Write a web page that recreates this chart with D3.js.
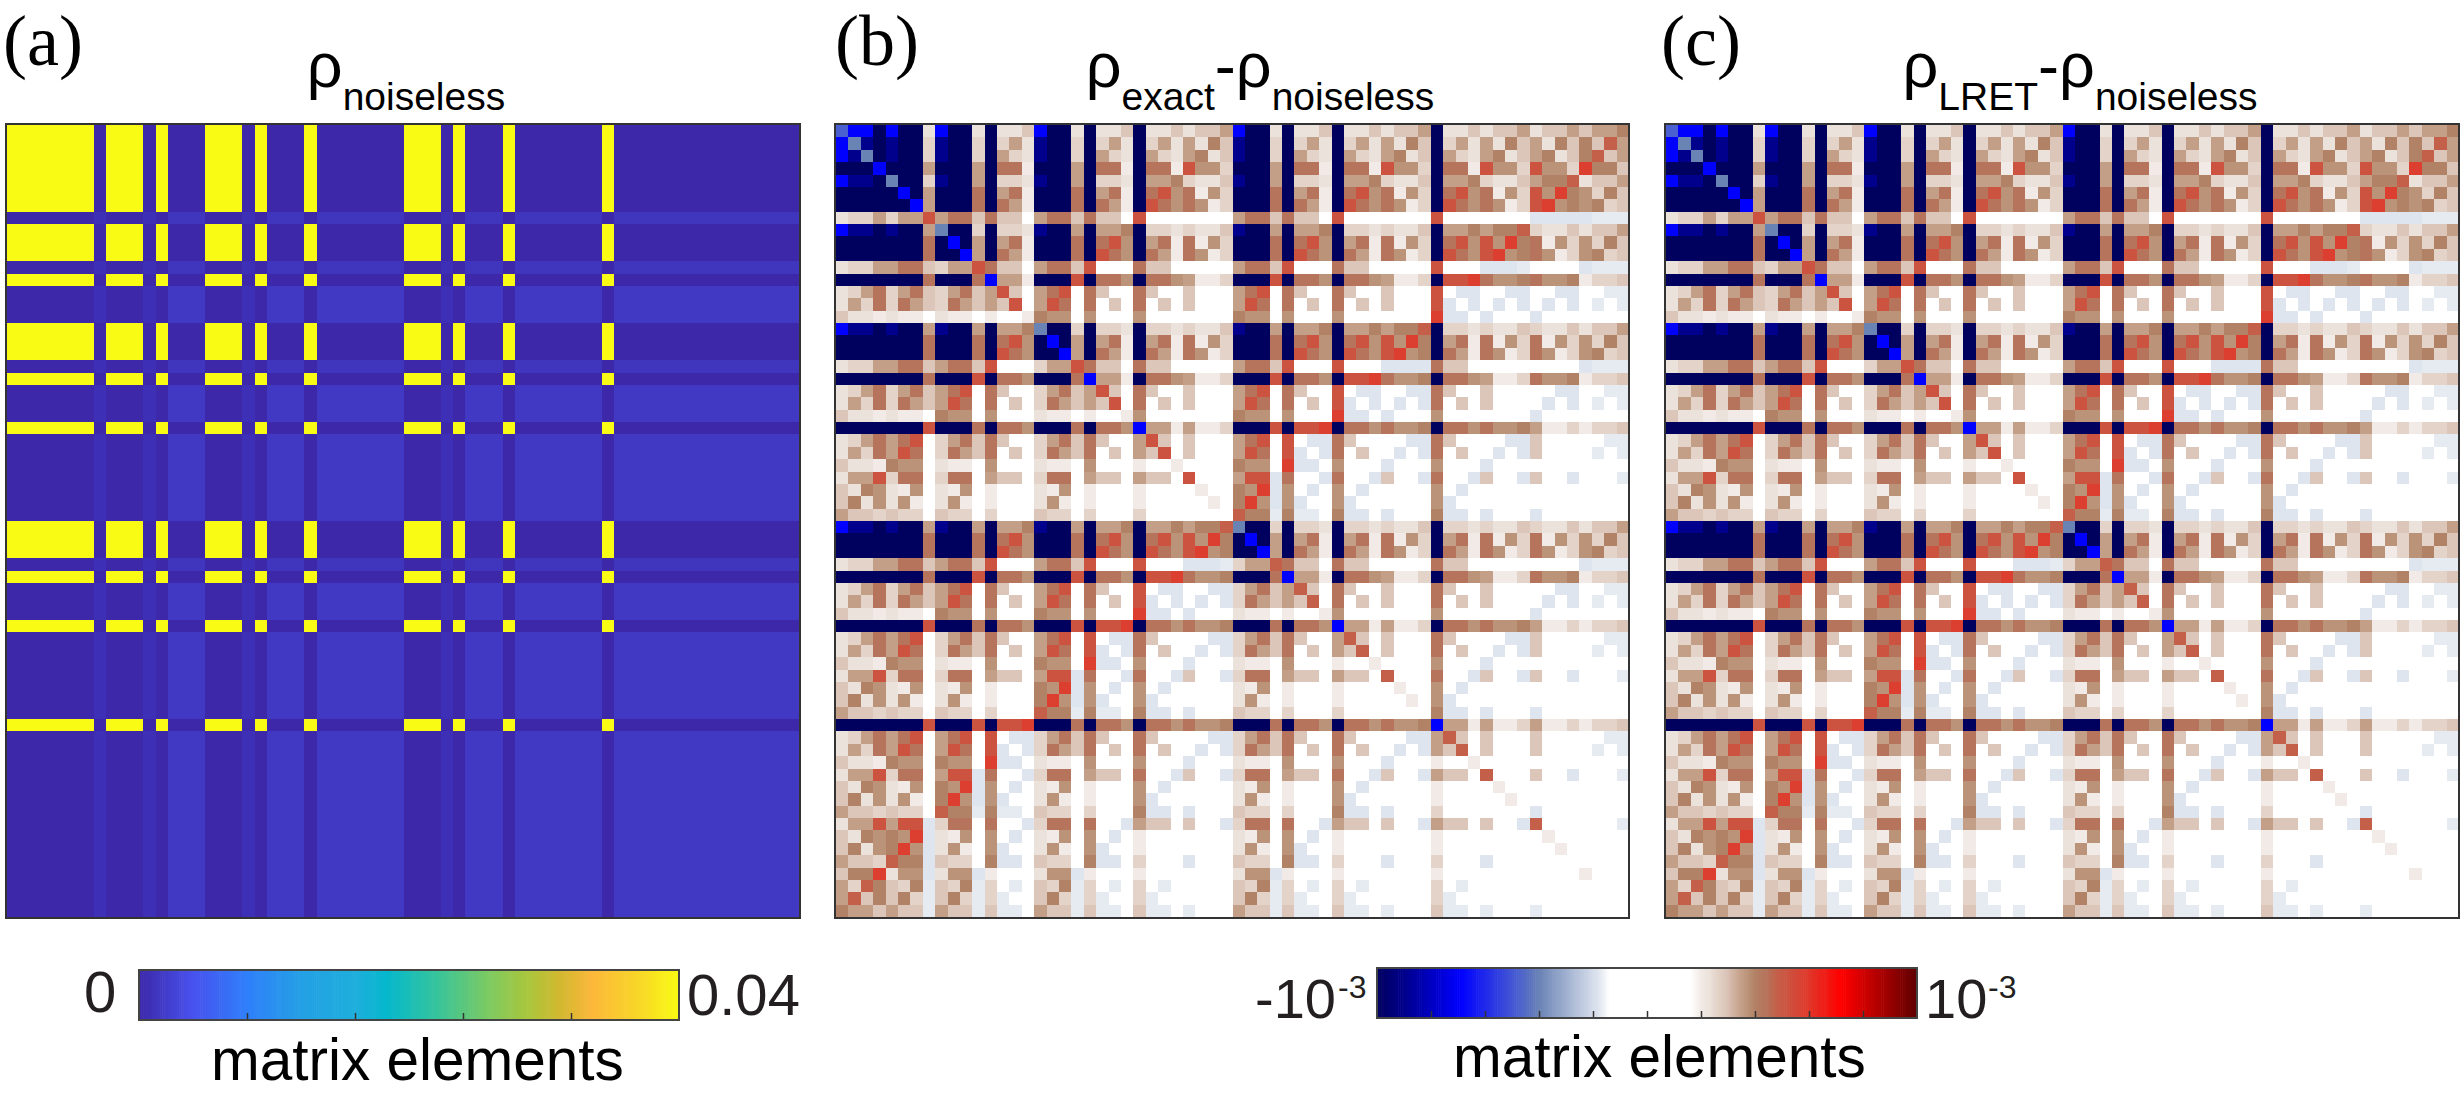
<!DOCTYPE html>
<html>
<head>
<meta charset="utf-8">
<script src="https://d3js.org/d3.v7.min.js"></script>
<style>
html, body { margin: 0; padding: 0; background: #fff; overflow: hidden; }
text { font-family: "Liberation Sans", sans-serif; fill: #000; }
.panel-label { font-family: "Liberation Serif", serif; font-size: 72px; }
.cbar-label { fill: #231f20; }
</style>
</head>
<body>
<script>
// colormap for panel (a), fraction of the colorbar -> colour
var parulaStops = [0, 0.1, 0.2, 0.3, 0.4, 0.46, 0.55, 0.65, 0.72, 0.78, 0.84, 0.92, 1];
var parulaColors = ["#3c28a8", "#4852ee", "#2f7ffa", "#24a0e4", "#1eaedc", "#05b8cc", "#35c49c", "#7fca60", "#a9c63c", "#d2b830", "#fcb83a", "#f8d428", "#f9fb14"];

// colormap for panels (b) and (c), -1 .. 1 (axis runs -10^-3 .. 10^-3)
var divStops = [-1, -0.9, -0.69, -0.48, -0.4, -0.18, -0.17, -0.14, 0.16, 0.2, 0.23, 0.26, 0.29, 0.35, 0.37, 0.4, 0.44, 0.48, 0.52, 0.58, 0.72, 1];
var divColors = ["#00005f", "#00008c", "#0000ff", "#4a5fd0", "#6a83b5", "#dfe5ef", "#e6ebf2", "#ffffff", "#ffffff", "#f2eae6", "#ece2dc", "#e3d3c9", "#dcc6ba", "#c49f88", "#bb9379", "#b28266", "#b5745b", "#c4604a", "#cc5340", "#dc3f30", "#ff0000", "#5f0000"];

// value of each letter used in the matrices below
var noiselessCodes = { y: 0.04, s: 0, m: 0.0008, l: 0.0012, L: 0.0016 };
var diffCodes = { N: -1, D: -0.9, B: -0.69, a: -0.48, g: -0.4, p: -0.18, q: -0.17, ".": 0,
  1: 0.2, 2: 0.23, 3: 0.26, 4: 0.29, 5: 0.35, 6: 0.37, 7: 0.4, 8: 0.44, r: 0.48, 9: 0.52, S: 0.58 };

var rowY = "yyyyyyys yyysysss yyysysss ysssssss yyysysss ysssssss ysssssss ssssssss";
var rowM = "sssssssm sssmslll sssmslll slllllll sssmslll slllllll slllllll llllllll";
var rowL = "sssssssm sssmsLLL sssmsLLL sLLLLLLL sssmsLLL sLLLLLLL sLLLLLLL LLLLLLLL";

var rhoNoiseless = [
  rowY, rowY, rowY, rowY, rowY, rowY, rowY, rowM,
  rowY, rowY, rowY, rowM, rowY, rowL, rowL, rowL,
  rowY, rowY, rowY, rowM, rowY, rowL, rowL, rowL,
  rowY, rowL, rowL, rowL, rowL, rowL, rowL, rowL,
  rowY, rowY, rowY, rowM, rowY, rowL, rowL, rowL,
  rowY, rowL, rowL, rowL, rowL, rowL, rowL, rowL,
  rowY, rowL, rowL, rowL, rowL, rowL, rowL, rowL,
  rowL, rowL, rowL, rowL, rowL, rowL, rowL, rowL
];

var rhoExactDiff = [
  "aBBNBNN2 BNN2N224 BNN2N224 N2242445 BNN2N224 N2242445 N2242445 24454557",
  "BgDNDNN3 DNN3N352 DNN3N352 N3525274 DNN3N352 N3525274 N3525274 527474r5",
  "BDgNDNN3 DNN3N532 DNN3N532 N5325724 DNN3N532 N5325724 N5325724 57247r45",
  "NNNBNNN5 NNN5N881 NNN5N881 N8819663 NNN5N881 N8819663 N8819663 9663S774",
  "BDDNgNN3 DNN5N332 DNN5N332 N5573224 DNN5N332 N5573224 N5573224 577r2445",
  "NNNNNBN5 NNN8N581 NNN8N581 N8968163 NNN8N581 N8968163 N8968163 96S76374",
  "NNNNNNB5 NNN8N851 NNN8N851 N9868613 NNN8N851 N9868613 N9868613 9S676734",
  "23353559 5884844. 5884844. 9....... 5884844. 9....... 9....... pppppqqq",
  "BDDNDNN5 gNN3N332 DNN5N557 N3323224 DNN5N557 N3323224 N557577r 32242445",
  "NNNNNNN8 NBN5N581 NNN8N896 N5818163 NNN8N896 N5818163 N89696S7 81636374",
  "NNNNNNN8 NNB5N851 NNN8N986 N8518613 NNN8N986 N8518613 N9869S67 86136734",
  "23355884 3559844. 58849... 844..... 58849... 844..... 9...pppq ....pqqq",
  "NNNNNNN8 NNN8B551 NNN9N886 N8865113 NNN9N886 N8865113 N99S8667 86671334",
  "23583584 3584594. 589.84.. 84..4... 589.84.. 84..4... 9.pp..pp ..pp..qq",
  "25383854 3854549. 598.8.4. 8.4.4... 598.8.4. 8.4.4... 9p.p.p.p .p.p.q.q",
  "4221211. 211.1..1 766.6... 6....... 766.6... 6....... Spp.p... p.......",
  "BDDNDNN5 DNN5N557 gNN3N332 N3323224 DNN5N557 N557577r N3323224 32242445",
  "NNNNNNN8 NNN8N896 NBN5N581 N5818163 NNN8N896 N89696S7 N5818163 81636374",
  "NNNNNNN8 NNN8N986 NNB5N851 N8518613 NNN8N986 N9869S67 N8518613 86136734",
  "23355884 58849... 3559844. 844..... 58849... 9...pppp 844..... ....pqqq",
  "NNNNNNN8 NNN9N886 NNN8B551 N8865113 NNN9N886 N99S8667 N8865113 86671334",
  "23583584 589.84.. 3584594. 84..4... 589.84.. 9.pp..pp 84..4... ..pp..qq",
  "25383854 598.8.4. 3854549. 8.4.4... 598.8.4. 9p.p.p.p 8.4.4... .p.p.q.q",
  "4221211. 766.6... 211.1..1 6....... 766.6... Spp.p... 6....... p.......",
  "NNNNNNN9 NNN8N886 NNN8N886 B5515113 NNN9N99S N8868667 N8868667 51131334",
  "2358589. 358484.. 358484.. 594.4... 589.9.pp 84....pp 84....pp 4.....qq",
  "2538598. 38548.4. 38548.4. 549.4... 598.9p.p 8.4..p.p 8.4..p.p 4....q.q",
  "4221766. 211.6... 211.6... 1..1.... 766.Spp. 6...p... 6...p... ........",
  "2559388. 388.544. 388.544. 544.9... 599p8..p 8..p4..p 8..p4..p 4..p...q",
  "4276216. 216.1... 216.1... 1....1.. 76Sp6.p. 6.p..... 6.p..... ........",
  "4726261. 261.1... 261.1... 1.....1. 7S6p6p.. 6p...... 6p...... ........",
  "5443433. 433.3... 433.3... 3....... r77q7qq. 7pp.p... 7pp.p... p.......",
  "BDDNDNN5 DNN5N557 DNN5N557 N557577r gNN3N332 N3323224 N3323224 32242445",
  "NNNNNNN8 NNN8N896 NNN8N896 N89696S7 NBN5N581 N5818163 N5818163 81636374",
  "NNNNNNN8 NNN8N986 NNN8N986 N9869S67 NNB5N851 N8518613 N8518613 86136734",
  "23355884 58849... 58849... 9...pppq 355r844. 844..... 844..... ....pqqq",
  "NNNNNNN8 NNN9N886 NNN9N886 N99S8667 NNN8B551 N8865113 N8865113 86671334",
  "23583584 589.84.. 589.84.. 9.pp..pp 35845r4. 84..4... 84..4... ..pp..qq",
  "25383854 598.8.4. 598.8.4. 9p.p.p.p 385454r. 8.4.4... 8.4.4... .p.p.q.q",
  "4221211. 766.6... 766.6... Spp.p... 211.1..1 6....... 6....... p.......",
  "NNNNNNN9 NNN8N886 NNN9N99S N8868667 NNN8N886 B5515113 N8868667 51131334",
  "2358589. 358484.. 589.9.pp 84....pp 358484.. 5r4.4... 84....pp 4.....qq",
  "2538598. 38548.4. 598.9p.p 8.4..p.p 38548.4. 54r.4... 8.4..p.p 4....q.q",
  "4221766. 211.6... 766.Spp. 6...p... 211.6... 1..1.... 6...p... ........",
  "2559388. 388.544. 599p8..p 8..p4..p 388.544. 544.r... 8..p4..p 4..p...q",
  "4276216. 216.1... 76Sp6.p. 6.p..... 216.1... 1....1.. 6.p..... ........",
  "4726261. 261.1... 7S6p6p.. 6p...... 261.1... 1.....1. 6p...... ........",
  "5443433. 433.3... r77q7qq. 7pp.p... 433.3... 3....... 7pp.p... p.......",
  "NNNNNNN9 NNN9N99S NNN8N886 N8868667 NNN8N886 N8868667 B5515113 51131334",
  "2358589. 589.9.pp 358484.. 84....pp 358484.. 84....pp 5r4.4... 4.....qq",
  "2538598. 598.9p.p 38548.4. 8.4..p.p 38548.4. 8.4..p.p 54r.4... 4....q.q",
  "4221766. 766.Spp. 211.6... 6...p... 211.6... 6...p... 1..1.... ........",
  "2559388. 599p8..p 388.544. 8..p4..p 388.544. 8..p4..p 544.r... 4..p...q",
  "4276216. 76Sp6.p. 216.1... 6.p..... 216.1... 6.p..... 1....1.. ........",
  "4726261. 7S6p6p.. 261.1... 6p...... 261.1... 6p...... 1.....1. ........",
  "5443433. r77q7qq. 433.3... 7pp.p... 433.3... 7pp.p... 3....... p.......",
  "2559599p 388.8..p 388.8..p 544.4..p 388.8..p 544.4..p 544.4..p r......q",
  "427676Sp 216.6.p. 216.6.p. 1....... 216.6.p. 1....... 1....... .1......",
  "47267S6p 261.6p.. 261.6p.. 1....... 261.6p.. 1....... 1....... ..1.....",
  "5443r77p 433.7pp. 433.7pp. 3...p... 433.7pp. 3...p... 3...p... ........",
  "477S266p 266p1... 266p1... 1....... 266p1... 1....... 1....... ....1...",
  "53r7437q 437q3.q. 437q3.q. 3.q..... 437q3.q. 3.q..... 3.q..... ........",
  "5r47473q 473q3q.. 473q3q.. 3q...... 473q3q.. 3q...... 3q...... ........",
  "7554544q 544q4qq. 544q4qq. 4qq.q... 544q4qq. 4qq.q... 4qq.q... q......."
];

// (c) cannot be told from (b) at this resolution
var rhoLretDiff = rhoExactDiff;

var panelLabels = ["(a)", "(b)", "(c)"];
var cbarTicksA = [0.008, 0.016, 0.024, 0.032];
var cbarTicksB = [-0.8, -0.6, -0.4, -0.2, 0, 0.2, 0.4, 0.6, 0.8];

var width = 2461, height = 1093, nCells = 64;
var panelSize = 793;

var svg = d3.select("body").append("svg")
    .attr("width", width)
    .attr("height", height);

var parula = d3.scaleLinear()
    .domain(parulaStops.map(function(d) { return d * 0.04; }))
    .range(parulaColors);

var diverging = d3.scaleLinear()
    .domain(divStops)
    .range(divColors)
    .clamp(true);

var xScale = d3.scaleBand().domain(d3.range(nCells)).range([0, panelSize]);
var yScale = d3.scaleBand().domain(d3.range(nCells)).range([0, panelSize - 1]);

function parseRows(rows, codes) {
  var cells = [];
  rows.forEach(function(row, i) {
    row.replace(/ /g, "").split("").forEach(function(c, j) {
      cells.push({ row: i, col: j, value: codes[c] });
    });
  });
  return cells;
}

function drawMatrix(left, rows, codes, color) {
  var g = svg.append("g")
      .attr("transform", "translate(" + left + ",125)");

  g.selectAll("rect.cell")
      .data(parseRows(rows, codes))
      .enter().append("rect")
      .attr("class", "cell")
      .attr("x", function(d) { return xScale(d.col); })
      .attr("y", function(d) { return yScale(d.row); })
      .attr("width", xScale.bandwidth())
      .attr("height", yScale.bandwidth())
      .attr("fill", function(d) { return color(d.value); })
      .attr("shape-rendering", "crispEdges");

  g.append("rect")
      .attr("x", -1)
      .attr("y", -1)
      .attr("width", panelSize + 1)
      .attr("height", panelSize + 1)
      .attr("fill", "none")
      .attr("stroke", "#333")
      .attr("stroke-width", 2);
}

drawMatrix(7, rhoNoiseless, noiselessCodes, parula);
drawMatrix(836, rhoExactDiff, diffCodes, diverging);
drawMatrix(1666, rhoLretDiff, diffCodes, diverging);

function drawColorbar(left, top, barHeight, domain, color, ticks) {
  var barScale = d3.scaleLinear().domain(domain).range([0, 540]);
  var g = svg.append("g")
      .attr("transform", "translate(" + left + "," + top + ")");

  g.selectAll("rect.step")
      .data(d3.range(0, 256))
      .enter().append("rect")
      .attr("class", "step")
      .attr("x", function(d) { return 540 * d / 256; })
      .attr("width", 540 / 256 + 0.6)
      .attr("height", barHeight)
      .attr("fill", function(d) { return color(barScale.invert(540 * (d + 0.5) / 256)); });

  var axis = d3.axisTop(barScale)
      .tickValues(ticks)
      .tickSize(7)
      .tickFormat("");

  g.append("g")
      .attr("transform", "translate(0," + barHeight + ")")
      .call(axis)
      .call(function(a) { a.select(".domain").remove(); })
      .selectAll("line")
      .attr("stroke", "#333")
      .attr("stroke-width", 1.5);

  g.append("rect")
      .attr("width", 540)
      .attr("height", barHeight)
      .attr("fill", "none")
      .attr("stroke", "#444")
      .attr("stroke-width", 2);
}

drawColorbar(139, 970, 50, [0, 0.04], parula, cbarTicksA);
drawColorbar(1377, 968, 50, [-1, 1], diverging, cbarTicksB);

// panel letters
svg.selectAll("text.panel-label")
    .data(panelLabels)
    .enter().append("text")
    .attr("class", "panel-label")
    .attr("x", function(d, i) { return [3, 835, 1661][i]; })
    .attr("y", 65)
    .text(function(d) { return d; });

// titles: [text, subscript?] runs
function title(x, runs) {
  var t = svg.append("text")
      .attr("x", x)
      .attr("y", 87)
      .attr("text-anchor", "middle");
  var sub = false;
  runs.forEach(function(r) {
    var isSub = r[1];
    t.append("tspan")
        .attr("dy", isSub === sub ? 0 : (isSub ? 23 : -23))
        .style("font-size", isSub ? "39px" : "63px")
        .text(r[0]);
    sub = isSub;
  });
}

title(406, [["ρ", false], ["noiseless", true]]);
title(1260, [["ρ", false], ["exact", true], ["-ρ", false], ["noiseless", true]]);
title(2080, [["ρ", false], ["LRET", true], ["-ρ", false], ["noiseless", true]]);

// colorbar labels
function barText(x, y, size, str, cls) {
  svg.append("text")
      .attr("class", cls || "cbar-label")
      .attr("x", x)
      .attr("y", y)
      .style("font-size", size + "px")
      .text(str);
}

barText(84, 1012, 58, "0");
barText(687, 1015, 58, "0.04");
barText(1255, 1018, 56, "-10");
barText(1338, 998, 32, "-3");
barText(1925, 1018, 56, "10");
barText(1988, 998, 32, "-3");
barText(211, 1080, 58.5, "matrix elements", "axis-label");
barText(1453, 1077, 58.5, "matrix elements", "axis-label");
</script>
</body>
</html>
